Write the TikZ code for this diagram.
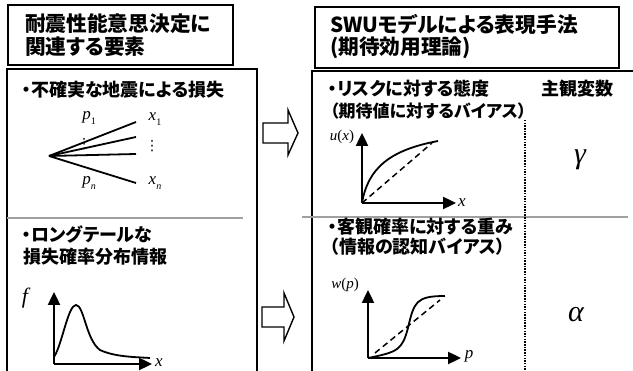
\documentclass[tikz,border=0pt]{standalone}
\usepackage{fontspec}
\newfontfamily\jp{Noto Sans CJK JP}[RawFeature=+palt]
\newfontfamily\tms{Liberation Serif}
\newfontfamily\djv{DejaVu Sans}
\usetikzlibrary{arrows.meta}
\newcommand{\iv}[1]{{\itshape #1}}
\newcommand{\sbx}[1]{\raisebox{-0.25em}{\fontsize{10}{11}\selectfont #1}}
\tikzset{
  box/.style={draw=black, line width=1.5pt},
  graydiv/.style={draw={rgb,255:red,160;green,160;blue,160}, line width=2pt},
  ttl/.style={anchor=west, inner sep=0pt, font=\jp\bfseries\fontsize{20.7}{24}\selectfont},
  txt/.style={anchor=west, inner sep=0pt, font=\jp\bfseries\fontsize{18}{22}\selectfont},
  mlab/.style={inner sep=0pt, font=\tms\fontsize{17}{19}\selectfont},
  dotsl/.style={inner sep=0pt, font=\djv\fontsize{14}{16}\selectfont},
  axis/.style={line width=2.4pt, -{Triangle[length=13pt,width=12pt]}},
  curve/.style={line width=1.8pt},
  dcurve/.style={line width=1.5pt, dash pattern=on 6pt off 4pt},
  blockarrow/.style={draw=black, line width=1.4pt, fill=white, line join=miter},
  branch/.style={line width=1.8pt},
}
\begin{document}
\begin{tikzpicture}[x=1pt,y=-1pt]
\useasboundingbox (0,0) rectangle (633,371);
\clip (0,0) rectangle (633,371);
% boxes
\draw[box] (8,5) rectangle (233,65);
\draw[box] (7,69) rectangle (257,390);
\draw[box] (315,7) rectangle (619,68);
\draw[box] (312,71) rectangle (650,390);
\draw[graydiv] (7,218) -- (243,218);
\draw[graydiv] (302,217) -- (628,217);
\coordinate (dt) at (525,120);
\coordinate (db) at (525,380);
\draw[line width=2pt, dash pattern=on 1.5pt off 1.2pt] (dt) -- (db);
% titles
\node[ttl] (t1a) at (25,24) {耐震性能意思決定に};
\node[ttl] (t1b) at (25,47) {関連する要素};
\node[ttl] (t2a) at (330,24) {SWUモデルによる表現手法};
\node[ttl] (t2b) at (330,48) {(期待効用理論)};
% section texts
\node[txt] (s1) at (22,90) {・不確実な地震による損失};
\node[txt] (s2) at (22,235) {・ロングテールな};
\node[txt] (s3) at (23,257) {損失確率分布情報};
\node[txt] (s4) at (328,89) {・リスクに対する態度};
\node[txt, font=\jp\bfseries\fontsize{17}{20}\selectfont] (s5) at (330,111) {（期待値に対するバイアス）};
\node[txt] (s6) at (541,89) {主観変数};
\node[txt] (s7) at (328,227) {・客観確率に対する重み};
\node[txt] (s8) at (330,247) {（情報の認知バイアス）};
% gamma, alpha
\node[inner sep=0pt, font=\tms\itshape\fontsize{30}{32}\selectfont] (gam) at (580,160) {γ};
\node[inner sep=0pt, font=\tms\itshape\fontsize{30}{32}\selectfont] (alp) at (576,315) {α};
% block arrows
\draw[blockarrow] (263,123) -- (288,123) -- (288,110) -- (298,133) -- (288,155) -- (288,143) -- (263,143) -- cycle;
\draw[blockarrow] (262,307) -- (284,307) -- (284,293) -- (294,317) -- (284,341) -- (284,327) -- (262,327) -- cycle;
% tree
\coordinate (apex) at (49,156);
\coordinate (e1) at (136,122);
\coordinate (e2) at (136,137);
\coordinate (e3) at (136,154);
\coordinate (e4) at (136,183);
\draw[branch] (apex) -- (e1);
\draw[branch] (apex) -- (e2);
\draw[branch] (apex) -- (e3);
\draw[branch] (apex) -- (e4);
\node[mlab] (p1) at (89,118) {\iv{p}\sbx{1}};
\node[mlab] (pn) at (89,183) {\iv{p}\sbx{\iv{n}}};
\node[mlab] (x1) at (155,119) {\iv{x}\sbx{1}};
\node[mlab] (xn) at (155,183) {\iv{x}\sbx{\iv{n}}};
\node[dotsl] (vd1) at (84,144) {⋮};
\node[dotsl] (vd2) at (152,146) {⋮};
% u(x) plot
\coordinate (uo) at (362,203);
\coordinate (uy) at (362,133);
\coordinate (ux) at (456,203);
\draw[curve] (uo) .. controls (368,168) and (390,150) .. (438,141);
\draw[dcurve] (uo) -- (432,143);
\draw[axis] (uo) -- (uy);
\draw[axis] (uo) -- (ux);
\node[mlab, font=\tms\fontsize{15}{17}\selectfont] (ulab) at (342,137) {\iv{u}(\iv{x})};
\node[mlab] (uxl) at (462,203) {\iv{x}};
% w(p) plot
\coordinate (wo) at (368,358);
\coordinate (wy) at (368,290);
\coordinate (wx) at (461,358);
\draw[curve] (wo) .. controls (398,352) and (402,350) .. (408,328) .. controls (414,302) and (416,296) .. (445,296);
\draw[dcurve] (375,353) -- (440,300);
\draw[axis] (wo) -- (wy);
\draw[axis] (wo) -- (wx);
\node[mlab, font=\tms\fontsize{15}{17}\selectfont] (wlab) at (345,285) {\iv{w}(\iv{p})};
\node[mlab] (wpl) at (469,356) {\iv{p}};
% f plot
\coordinate (fo) at (54,364);
\coordinate (fy) at (54,292);
\coordinate (fx) at (152,364);
\draw[curve] (54,357) .. controls (62,345) and (68,305) .. (76,305) .. controls (84,305) and (86,340) .. (100,350) .. controls (115,357) and (135,357) .. (150,358);
\draw[axis] (fo) -- (fy);
\draw[axis] (fo) -- (fx);
\node[mlab, font=\tms\itshape\fontsize{22}{24}\selectfont] (flab) at (25,298) {f};
\node[mlab] (fxl) at (159,363) {\iv{x}};
\end{tikzpicture}
\end{document}
